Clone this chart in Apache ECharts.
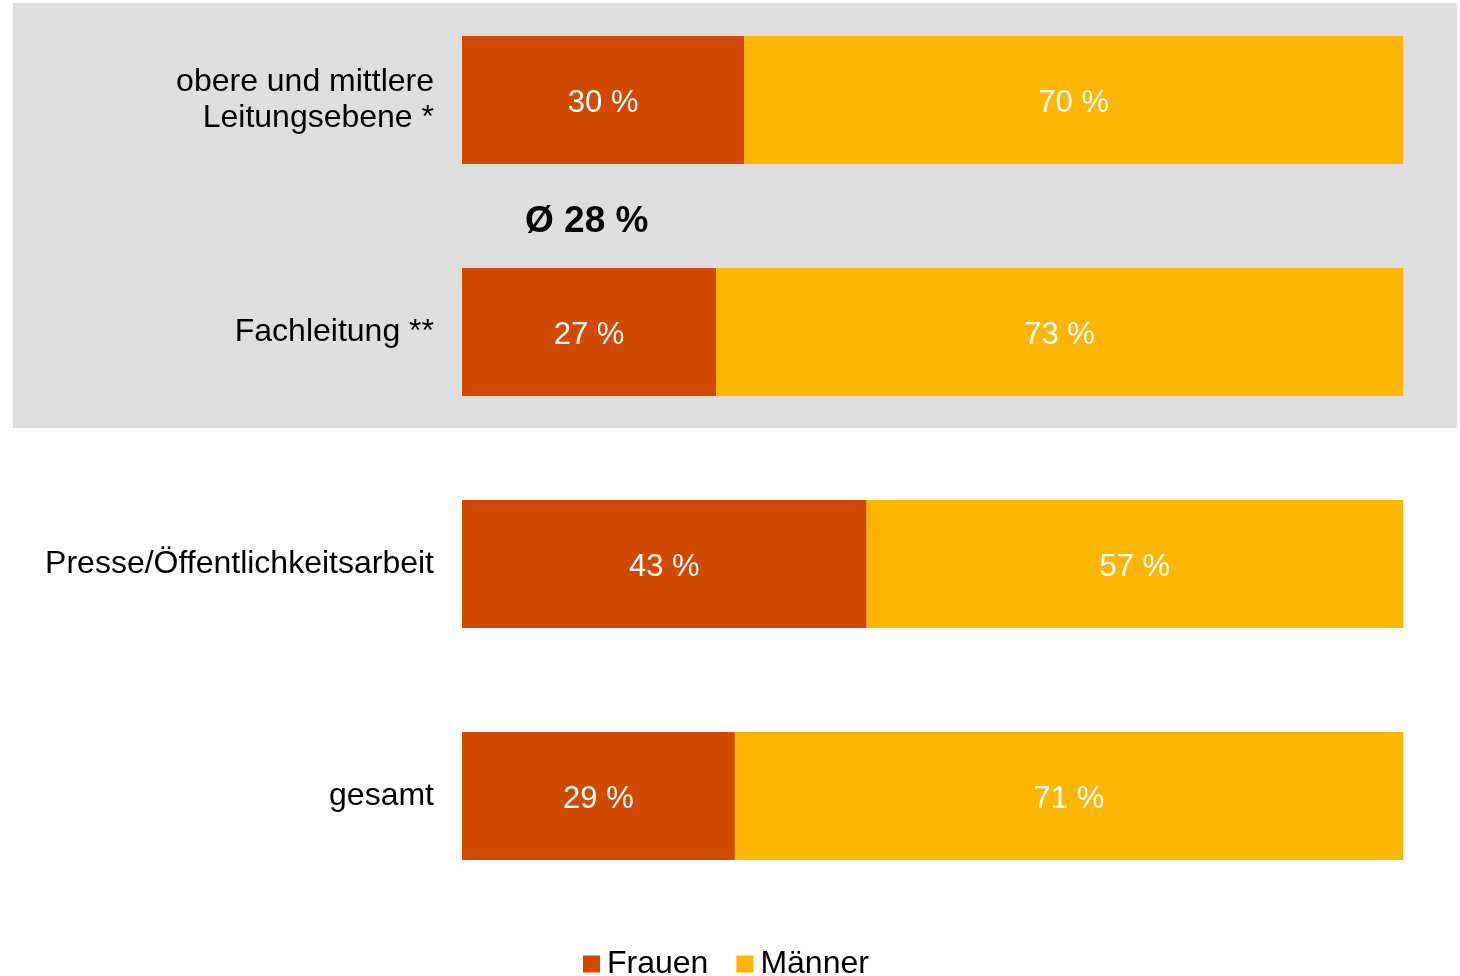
<!DOCTYPE html>
<html>
<head>
<meta charset="utf-8">
<script src="https://cdn.jsdelivr.net/npm/echarts@6/dist/echarts.min.js"></script>
<style>
  html, body { margin: 0; padding: 0; background: #fff; }
  #chart { width: 1460px; height: 976px; }
</style>
</head>
<body>
<div id="chart"></div>
<script>
const categories = ['obere und mittlere\nLeitungsebene *', 'Fachleitung **', 'Presse/Öffentlichkeitsarbeit', 'gesamt'];
const frauen = [30, 27, 43, 29];
const maenner = [70, 73, 57, 71];
const average = 'Ø 28 %';

const font = 'Liberation Sans, Arial, sans-serif';

const chart = echarts.init(document.getElementById('chart'));

const labelStyle = {
  show: true,
  position: 'inside',
  offset: [0, 3],
  color: '#fff',
  fontSize: 31,
  fontFamily: font,
  formatter: p => p.value + ' %'
};

chart.setOption({
  animation: false,
  graphic: [
    {
      type: 'rect',
      z: -10,
      shape: { x: 13, y: 3, width: 1444, height: 425 },
      style: { fill: '#dedede' }
    },
    {
      type: 'text',
      left: 525,
      top: 203,
      style: {
        text: average,
        fontSize: 37,
        fontWeight: 'bold',
        fontFamily: font,
        fill: '#000'
      }
    }
  ],
  // boundaryGap false puts category centres on the grid edges
  grid: { left: 462, right: 57, top: 100, bottom: 180 },
  xAxis: { type: 'value', min: 0, max: 100, show: false },
  yAxis: {
    type: 'category',
    data: categories,
    inverse: true,
    boundaryGap: false,
    axisLine: { show: false },
    axisTick: { show: false },
    splitLine: { show: false },
    axisLabel: {
      margin: 28,
      color: '#000',
      fontSize: 32,
      lineHeight: 36,
      fontFamily: font,
      align: 'right'
    }
  },
  legend: {
    top: 943,
    left: 578,
    itemWidth: 17,
    itemHeight: 17,
    itemGap: 28,
    icon: 'rect',
    textStyle: { fontSize: 32, fontFamily: font, color: '#000', padding: [0, 0, 0, 2] },
    data: ['Frauen', 'Männer']
  },
  series: [
    {
      name: 'Frauen',
      type: 'bar',
      stack: 'total',
      barWidth: 128,
      data: frauen,
      itemStyle: { color: '#d04a02' },
      label: labelStyle
    },
    {
      name: 'Männer',
      type: 'bar',
      stack: 'total',
      barWidth: 128,
      data: maenner,
      itemStyle: { color: '#ffb600' },
      label: labelStyle
    }
  ]
});
</script>
</body>
</html>
